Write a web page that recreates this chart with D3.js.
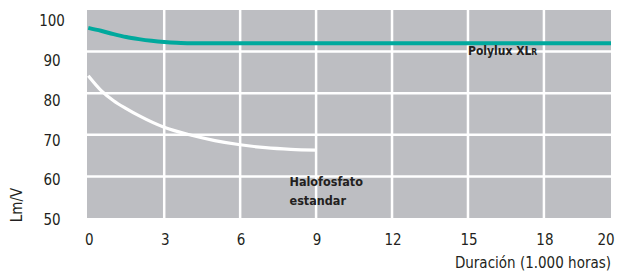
<!DOCTYPE html>
<html>
<head>
<meta charset="utf-8">
<script src="https://cdn.jsdelivr.net/npm/d3@7"></script>
<style>
  body { margin: 0; background: #fff; }
  text { font-family: "Liberation Sans Narrow", "DejaVu Sans Condensed", "Roboto Condensed", sans-serif; fill: #231f20; }
</style>
</head>
<body>
<svg id="chart" width="620" height="276"></svg>
<script>
// data
let xTicks = [0, 3, 6, 9, 12, 15, 18, 20];
let yTicks = [50, 60, 70, 80, 90, 100];
let polyluxHours = [0, 0.5, 1, 1.5, 2, 2.5, 3, 3.5, 4, 20.65];
let polyluxLmV   = [95.7, 95.0, 94.2, 93.5, 93.0, 92.6, 92.3, 92.1, 92.0, 92.0];
let haloHours = [0, 0.5, 1, 1.5, 2, 3, 4, 5, 6, 7, 8, 9];
let haloLmV   = [84.2, 80.7, 78.2, 76.3, 74.6, 71.8, 70.0, 68.6, 67.6, 66.9, 66.5, 66.3];

let margin = {top: 10, right: 9, bottom: 58, left: 87};
let width = 620 - margin.left - margin.right;
let height = 276 - margin.top - margin.bottom;

let svg = d3.select("#chart");
let g = svg.append("g").attr("transform", `translate(${margin.left},${margin.top})`);

// the grey panel runs a bit past 20
let x = d3.scaleLinear().domain([-0.05, 20.65]).range([0, width]);
let y = d3.scaleLinear().domain([50, 100]).range([height, 0]);
// tick labels sit a little lower than the gridlines in the original
let yLab = d3.scaleLinear().domain([50, 100]).range([height + 2, 11]);

g.append("rect")
	.attr("width", width).attr("height", height)
	.attr("fill", "#bdbec2");

// gridlines
g.selectAll("line.h")
	.data(yTicks.filter(d => d > 50 && d < 100))
	.enter().append("line")
	.attr("x1", 0).attr("x2", width)
	.attr("y1", d => y(d)).attr("y2", d => y(d))
	.attr("stroke", "#fff").attr("stroke-width", 2.5);
g.selectAll("line.v")
	.data(xTicks.filter(d => d > 0 && d < 20))
	.enter().append("line")
	.attr("y1", 0).attr("y2", height)
	.attr("x1", d => x(d)).attr("x2", d => x(d))
	.attr("stroke", "#fff").attr("stroke-width", 2.5);

let line = d3.line().curve(d3.curveMonotoneX);

g.append("path")
	.attr("d", line(haloHours.map((h, i) => [x(h), y(haloLmV[i])])))
	.attr("fill", "none").attr("stroke", "#fff").attr("stroke-width", 3.2);

g.append("path")
	.attr("d", line(polyluxHours.map((h, i) => [x(h), y(polyluxLmV[i])])))
	.attr("fill", "none").attr("stroke", "#00a99d").attr("stroke-width", 4);

// y tick labels
g.selectAll("text.yl")
	.data(yTicks)
	.enter().append("text")
	.attr("x", -35).attr("y", d => yLab(d))
	.attr("text-anchor", "middle").attr("dy", "0.35em")
	.attr("font-size", 15)
	.text(d => d);

// x tick labels; the "20" sits at the right end of the panel
g.selectAll("text.xl")
	.data(xTicks)
	.enter().append("text")
	.attr("x", d => d === 20 ? width - 5 : x(d) + 1).attr("y", height + 22)
	.attr("text-anchor", "middle").attr("dy", "0.35em")
	.attr("font-size", 15)
	.text(d => d);

g.append("text")
	.attr("x", width).attr("y", height + 45)
	.attr("text-anchor", "end").attr("dy", "0.35em")
	.attr("font-size", 15)
	.text("Duración (1.000 horas)");

svg.append("text")
	.attr("transform", "translate(22,205) rotate(-90)")
	.attr("text-anchor", "middle")
	.attr("font-size", 15)
	.text("Lm/V");

// series labels
let pl = g.append("text")
	.attr("x", x(15.0)).attr("y", y(89.1))
	.attr("font-size", 12).attr("font-weight", "bold");
pl.append("tspan").text("Polylux XL");
pl.append("tspan").attr("font-size", 8.5).text("R");

g.append("text")
	.attr("x", x(7.95)).attr("y", y(57.6))
	.attr("font-size", 12.5).attr("font-weight", "bold")
	.text("Halofosfato");
g.append("text")
	.attr("x", x(7.95)).attr("y", y(53.1))
	.attr("font-size", 12.5).attr("font-weight", "bold")
	.text("estandar");
</script>
</body>
</html>
